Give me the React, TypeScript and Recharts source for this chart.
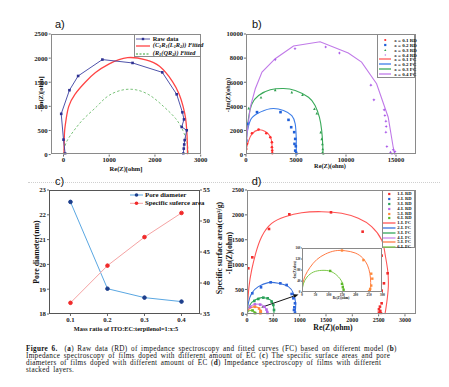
import React from "react";
import { ComposedChart, Line, Scatter, XAxis, YAxis, ReferenceLine } from "recharts";

// ---- panel a: raw data and two fitted models (Re, -Im in ohm)
const aRaw = [[36, 20], [0, 310], [-50, 845], [130, 1335], [320, 1630], [850, 1970], [1510, 1900], [2160, 1705], [2475, 1250], [2600, 877], [2635, 730], [2585, 573], [2695, 504], [2650, 300], [2640, 210], [2630, 124], [2620, 20]];
const aFitCRL = [[10, 0], [15, 250], [25, 500], [60, 750], [115, 1000], [250, 1250], [475, 1500], [700, 1700], [1000, 1880], [1400, 2010], [1800, 1965], [2100, 1830], [2380, 1520], [2530, 1250], [2615, 1000], [2670, 750], [2695, 500], [2708, 250], [2712, 0]];
const aFitRQR = [[0, 0], [60, 250], [230, 500], [450, 750], [730, 1000], [1000, 1230], [1420, 1355], [1850, 1250], [2185, 1000], [2450, 750], [2610, 500], [2700, 250], [2730, 0]];

// ---- panel b: x = 0.1 .. 0.4
const bFit1 = [[0, 0], [40, 500], [270, 1160], [600, 1720], [1260, 2050], [1930, 1910], [2430, 1500], [2590, 890], [2645, 300], [2660, 0]];
const bRaw1 = [[30, 470], [100, 890], [600, 1770], [1260, 2080], [2030, 1770], [2430, 1440], [2590, 1020], [2590, 610], [2620, 330], [2620, 110]];
const bFit2 = [[0, 0], [30, 900], [100, 1720], [430, 2830], [1100, 3380], [2430, 3800], [3750, 3660], [4580, 3240], [4920, 2550], [5020, 1440], [5030, 500], [5020, 0]];
const bRaw2 = [[30, 1160], [130, 2550], [1100, 3520], [3450, 3520], [4250, 2880], [4520, 2270], [4820, 1860], [4920, 1300], [4850, 890], [4980, 690], [4920, 330], [5020, 140], [5080, 0]];
const bFit3 = [[0, 0], [20, 800], [66, 1720], [266, 3100], [600, 4210], [1260, 4900], [2430, 5370], [3750, 5480], [4920, 5320], [6250, 4760], [6910, 4070], [7340, 3100], [7570, 1990], [7670, 890], [7710, 0]];
const bRaw3 = [[270, 3850], [1500, 4760], [2920, 5370], [4580, 5180], [5650, 4960], [6840, 3800], [7080, 3430], [7470, 1860], [7570, 1300], [7640, 890], [7670, 470], [7640, 190], [7740, 55]];
const bFit4 = [[0, 0], [100, 1720], [430, 3930], [930, 5460], [1600, 6840], [2920, 7950], [4750, 9000], [7410, 9360], [10230, 8420], [11560, 7670], [13060, 5870], [14220, 3100], [14720, 610], [14880, 0]];
const bRaw4 = [[2920, 7870], [4900, 8780], [7970, 8920], [9340, 8420], [12490, 5760], [12790, 4540], [13820, 3710], [13890, 3240], [13990, 2770], [14020, 2330], [13990, 1860], [14090, 665], [14450, 190], [14720, 400], [14850, 100], [14600, 50], [14900, 250]];

// ---- panel c
const cRatio = [0.1, 0.2, 0.3, 0.4];
const cPore = [22.52, 19.02, 18.66, 18.5];
const cArea = [36.8, 42.8, 47.4, 51.3];

// ---- panel d: 1..6 stacked layers
const d1Fit = [[0, 0], [13, 221], [38, 556], [89, 892], [165, 1227], [278, 1562], [468, 1830], [722, 1964], [1038, 2044], [1418, 2064], [1797, 2031], [2114, 1930], [2367, 1763], [2557, 1495], [2620, 1227], [2671, 892], [2684, 556], [2652, 221], [2620, 0]];
const d1Raw = [[25, 925], [101, 1146], [418, 1716], [804, 2011], [1595, 2051], [2196, 1662], [2557, 1180], [2671, 825], [2601, 623], [2557, 476], [2557, 221], [2525, 154], [2506, 100], [2532, 67], [2506, 34], [2544, 20]];
const d2Fit = [[0, 0], [25, 221], [89, 422], [215, 556], [405, 637], [595, 623], [785, 556], [880, 422], [924, 221], [911, 0]];
const d2Raw = [[101, 422], [266, 543], [449, 643], [633, 623], [753, 590], [848, 409], [880, 322], [911, 221], [899, 141], [892, 87], [911, 34]];
const d3Fit = [[0, 0], [57, 188], [152, 288], [278, 335], [373, 322], [468, 268], [506, 154], [513, 0]];
const d3Raw = [[139, 268], [215, 308], [310, 335], [392, 322], [468, 255], [500, 188], [513, 87]];
const d4Fit = [[0, 0], [15, 80], [50, 140], [110, 185], [200, 205], [290, 185], [350, 130], [385, 60], [395, 0]];
const d4Raw = [[60, 150], [150, 200], [250, 195], [330, 150], [370, 95], [385, 45], [390, 10]];
const d5Fit = [[0, 0], [3, 30], [12, 60], [30, 90], [55, 118], [87, 138], [124, 150], [161, 150], [198, 142], [226, 124], [244, 98], [253, 67], [256, 35], [255, 0]];
const d5Raw = [[149, 151], [229, 116], [258, 67], [262, 49], [258, 24], [254, 12], [250, 4]];
const d6Fit = [[0, 0], [5, 30], [19, 55], [43, 73], [74, 79], [105, 76], [130, 61], [149, 37], [155, 12], [155, 0]];
const d6Raw = [[105, 77], [149, 30], [152, 18], [155, 9]];

const bLabels = ["x = 0.1 RD", "x = 0.2 RD", "x = 0.3 RD", "x = 0.4 RD", "x = 0.1 FC", "x = 0.2 FC", "x = 0.3 FC", "x = 0.4 FC"];
const dLabels = ["1-L RD", "2-L RD", "3-L RD", "4-L RD", "5-L RD", "6-L RD", "1-L FC", "2-L FC", "3-L FC", "4-L FC", "5-L FC", "6-L FC"];

const SERIF = "'Liberation Serif', 'Times New Roman', serif";
const SANS = "'Liberation Sans', Arial, sans-serif";

const NAVY = "#2e3192";
const bRD = ["#ff2a2a", "#1f5fd8", "#2e9e4e", "#a855e8"];
const bFC = ["#ff5a5a", "#3d7ee8", "#3aaa5a", "#c07ae8"];
const dRD = ["#f22b2b", "#2962d9", "#2aa05a", "#b866e6", "#ff8a3a", "#5cb82a"];
const dFC = ["#ff5555", "#3a72dc", "#33a85c", "#c98aea", "#ff7a45", "#7cc84a"];

type Pt = { x: number; y: number };
const pts = (arr: number[][]): Pt[] => arr.map(([x, y]) => ({ x, y }));

type Box = { x0: number; y0: number; x1: number; y1: number };
const boxA: Box = { x0: 50.7, y0: 33.7, x1: 200.7, y1: 154.3 };
const boxB: Box = { x0: 245.7, y0: 33.7, x1: 415.7, y1: 154.3 };
const boxC: Box = { x0: 49, y0: 190, x1: 200, y1: 314 };
const boxD: Box = { x0: 247, y0: 190, x1: 415.5, y1: 314.3 };
const boxI: Box = { x0: 301.5, y0: 248.3, x1: 382, y1: 292.5 };

function mk(kind: string, color: string, s: number) {
  return (p: any) => {
    const { cx, cy } = p;
    if (cx == null || cy == null) return <g />;
    if (kind === "circle") return <circle cx={cx} cy={cy} r={s / 2} fill={color} />;
    if (kind === "tri")
      return <polygon points={`${cx},${cy - s / 2} ${cx - s / 2},${cy + s / 2} ${cx + s / 2},${cy + s / 2}`} fill={color} />;
    if (kind === "star")
      return (
        <polygon
          points={`${cx},${cy - s / 2} ${cx + s / 6},${cy - s / 6} ${cx + s / 2},${cy} ${cx + s / 6},${cy + s / 6} ${cx},${cy + s / 2} ${cx - s / 6},${cy + s / 6} ${cx - s / 2},${cy} ${cx - s / 6},${cy - s / 6}`}
          fill={color}
        />
      );
    return <rect x={cx - s / 2} y={cy - s / 2} width={s} height={s} fill={color} />;
  };
}

const tickStyle = (fs: number) => ({ fontSize: fs, fontWeight: 700, fontFamily: SERIF, fill: "#222" });

function Frame({ b, color = "#8a8a8a", bg }: { b: Box; color?: string; bg?: string }) {
  return (
    <div
      style={{
        position: "absolute",
        left: b.x0,
        top: b.y0,
        width: b.x1 - b.x0,
        height: b.y1 - b.y0,
        border: `1px solid ${color}`,
        boxSizing: "border-box",
        background: bg,
        pointerEvents: "none",
      }}
    />
  );
}

function Txt({ x, y, fs, rot, children, weight = 700, family = SERIF, anchor = "center" }: any) {
  const tx = anchor === "center" ? "-50%" : "0";
  return (
    <div
      style={{
        position: "absolute",
        left: x,
        top: y,
        transform: `translate(${tx}, -50%)${rot ? ` rotate(${rot}deg)` : ""}`,
        transformOrigin: anchor === "center" ? "center" : "left center",
        fontSize: fs,
        fontWeight: weight,
        fontFamily: family,
        whiteSpace: "nowrap",
        lineHeight: 1,
        color: "#111",
      }}
    >
      {children}
    </div>
  );
}

function Sample({ kind, color, w, dash }: { kind: string; color: string; w: number; dash?: string }) {
  const h = 4;
  return (
    <svg width={w} height={h} style={{ display: "block" }}>
      {kind === "line" || kind === "linesq" ? (
        <line x1={0} y1={h / 2} x2={w} y2={h / 2} stroke={color} strokeWidth={kind === "line" ? 1.3 : 0.8} strokeDasharray={dash} />
      ) : null}
      {kind !== "line" ? mk(kind === "linesq" ? "sq" : kind, color, kind === "linesq" ? 2.4 : 2.2)({ cx: w / 2, cy: h / 2 }) : null}
    </svg>
  );
}

type Row = { label: React.ReactNode; kind: string; color: string; dash?: string };

function LegendBox({ left, top, width, height, rows, start, step, fs, sw, tx }: any) {
  return (
    <div
      style={{
        position: "absolute",
        left,
        top,
        width,
        height,
        border: "1px solid #8a8a8a",
        boxSizing: "border-box",
        background: "#fff",
      }}
    >
      {rows.map((r: Row, i: number) => (
        <div key={i} style={{ position: "absolute", left: 0.5, top: start + i * step - 2, height: 4 }}>
          <Sample kind={r.kind} color={r.color} w={sw} dash={r.dash} />
          <div
            style={{
              position: "absolute",
              left: tx,
              top: 2,
              transform: "translateY(-50%)",
              fontSize: fs,
              fontWeight: 700,
              fontFamily: SERIF,
              whiteSpace: "nowrap",
              lineHeight: 1,
              color: "#111",
            }}
          >
            {r.label}
          </div>
        </div>
      ))}
    </div>
  );
}

function Panel({ b, yw, xh, rw = 0, data, children }: any) {
  const mt = 4;
  const mr = rw ? 0 : 12;
  return (
    <div style={{ position: "absolute", left: b.x0 - yw, top: b.y0 - mt }}>
      <ComposedChart
        width={b.x1 - b.x0 + yw + rw + mr}
        height={b.y1 - b.y0 + mt + xh}
        margin={{ top: mt, right: mr, left: 0, bottom: 0 }}
        data={data}
      >
        {children}
      </ComposedChart>
    </div>
  );
}

const axisCommon = (fs: number) => ({
  tick: tickStyle(fs),
  tickSize: 2,
  tickMargin: 1,
  axisLine: false,
  tickLine: { stroke: "#666" },
  allowDataOverflow: true,
  interval: 0 as const,
});

function fit(arr: number[][], color: string, type: any = "natural", width = 1, dash?: string, key?: string) {
  return (
    <Line
      key={key}
      data={pts(arr)}
      dataKey="y"
      type={type}
      stroke={color}
      strokeWidth={width}
      strokeDasharray={dash}
      dot={false}
      activeDot={false}
      isAnimationActive={false}
    />
  );
}

function raw(arr: number[][], kind: string, color: string, s: number, key?: string) {
  return <Scatter key={key} data={pts(arr)} dataKey="y" shape={mk(kind, color, s)} isAnimationActive={false} />;
}

const arrowShape = (p: any) => {
  const { x1, y1, x2, y2 } = p;
  if (x1 == null) return <g />;
  const a = Math.atan2(y2 - y1, x2 - x1);
  const L = 5;
  const W = 2;
  const bx = x2 - L * Math.cos(a);
  const by = y2 - L * Math.sin(a);
  const px = -Math.sin(a) * W;
  const py = Math.cos(a) * W;
  return (
    <g>
      <line x1={x1} y1={y1} x2={bx} y2={by} stroke="#111" strokeWidth={1} />
      <polygon points={`${x2},${y2} ${bx + px},${by + py} ${bx - px},${by - py}`} fill="#111" />
    </g>
  );
};

const sub = (s: string) => <sub style={{ fontSize: "70%", verticalAlign: "-0.2em" }}>{s}</sub>;

export default function App() {
  const cRows = cRatio.map((x, i) => ({ x, pore: cPore[i], area: cArea[i] }));
  const bFits = [bFit1, bFit2, bFit3, bFit4];
  const bRaws = [bRaw1, bRaw2, bRaw3, bRaw4];
  const bKinds = ["circle", "sq", "tri", "star"];
  const dFits = [d1Fit, d2Fit, d3Fit, d4Fit, d5Fit, d6Fit];
  const dRaws = [d1Raw, d2Raw, d3Raw, d4Raw, d5Raw, d6Raw];

  const aRows: Row[] = [
    { label: "Raw data", kind: "linesq", color: NAVY },
    { label: <i>(C{sub("1")}R{sub("1")}(L{sub("1")}R{sub("2")})) Fitted</i>, kind: "line", color: "#ff4545" },
    { label: <i>(R{sub("1")}(QR{sub("2")})) Fitted</i>, kind: "line", color: "#79c279", dash: "2 1.5" },
  ];
  const bRows: Row[] = bLabels.map((l, i) => ({
    label: <span><i>x</i>{l.slice(1)}</span>,
    kind: i < 4 ? bKinds[i] : "line",
    color: i < 4 ? bRD[i] : bFC[i - 4],
  }));
  const dRows: Row[] = dLabels.map((l, i) => ({
    label: l,
    kind: i < 6 ? "sq" : "line",
    color: i < 6 ? dRD[i] : dFC[i - 6],
  }));

  const capLine = { height: 7.2, overflow: "visible" as const };

  return (
    <div style={{ position: "absolute", left: 0, top: 0, width: 449, height: 387, background: "#fff", overflow: "hidden" }}>
      {/* dotted separator */}
      <div style={{ position: "absolute", left: 28, top: 182, width: 412, borderTop: "1px dotted #cfcfcf" }} />

      {/* ---------- a ---------- */}
      <Panel b={boxA} yw={30.7} xh={12}>
        <XAxis type="number" dataKey="x" domain={[-280, 3000]} ticks={[0, 1000, 2000, 3000]} height={12} {...axisCommon(6.8)} />
        <YAxis type="number" dataKey="y" domain={[0, 2500]} ticks={[0, 500, 1000, 1500, 2000, 2500]} width={30.7} {...axisCommon(6.8)} />
        {fit(aFitRQR, "#79c279", "natural", 1, "2.5 2")}
        {fit(aFitCRL, "#ff4545", "natural", 1.3)}
        {fit(aRaw, "#3b3fa0", "linear", 0.9)}
        {raw(aRaw, "sq", NAVY, 2.6)}
      </Panel>
      <Frame b={boxA} />
      <LegendBox left={134.3} top={33.7} width={66.4} height={23.6} rows={aRows} start={4} step={7.8} fs={6.3} sw={14} tx={17} />
      <Txt x={55} y={24} fs={11} weight={400} family={SANS} anchor="left">a)</Txt>
      <Txt x={40.7} y={94} fs={6.5} rot={-90}>-Im(Z)[ohm]</Txt>
      <Txt x={126} y={169} fs={6.5}>Re(Z)[ohm]</Txt>

      {/* ---------- b ---------- */}
      <Panel b={boxB} yw={22} xh={12}>
        <XAxis type="number" dataKey="x" domain={[0, 17000]} ticks={[0, 5000, 10000, 15000]} height={12} {...axisCommon(6.6)} />
        <YAxis type="number" dataKey="y" domain={[0, 10000]} ticks={[0, 2000, 4000, 6000, 8000, 10000]} width={22} {...axisCommon(6.6)} />
        {bFits.map((f, i) => fit(f, bFC[i], i === 3 ? "linear" : "natural", 1.1, undefined, "bf" + i))}
        {bRaws.map((r, i) => raw(r, bKinds[i], bRD[i], i === 3 ? 3.2 : 2.6, "br" + i))}
      </Panel>
      <Frame b={boxB} />
      <LegendBox left={377.3} top={33.7} width={37.7} height={44.3} rows={bRows} start={5.3} step={4.85} fs={5} sw={12.5} tx={15.5} />
      <Txt x={252} y={24} fs={11} weight={400} family={SANS} anchor="left">b)</Txt>
      <Txt x={228} y={95} fs={6.3} rot={-90}>-Im(Z)(ohm)</Txt>
      <Txt x={330} y={166} fs={6.3}>Re(Z)(ohm)</Txt>

      {/* ---------- c ---------- */}
      <Panel b={boxC} yw={14} xh={12} rw={14} data={cRows}>
        <XAxis type="number" dataKey="x" domain={[0.042, 0.45]} ticks={cRatio} height={12} {...axisCommon(6.8)} />
        <YAxis yAxisId="l" type="number" domain={[18, 23]} ticks={[18, 19, 20, 21, 22, 23]} width={14} {...axisCommon(6.8)} />
        <YAxis yAxisId="r" orientation="right" type="number" domain={[35, 55]} ticks={[35, 40, 45, 50, 55]} width={14} {...axisCommon(6.8)} />
        <Line yAxisId="l" dataKey="pore" type="linear" stroke="#5aa7e2" strokeWidth={1} dot={{ r: 1.8, fill: "#1d3f8c", stroke: "#1d3f8c" }} activeDot={false} isAnimationActive={false} />
        <Line yAxisId="r" dataKey="area" type="linear" stroke="#f5a3a3" strokeWidth={1} dot={{ r: 1.8, fill: "#f02a2a", stroke: "#f02a2a" }} activeDot={false} isAnimationActive={false} />
      </Panel>
      <Frame b={boxC} color="#555" />
      <Txt x={55} y={181} fs={11} weight={400} family={SANS} anchor="left">c)</Txt>
      <svg style={{ position: "absolute", left: 130, top: 192 }} width={14} height={14}>
        <line x1={0} y1={3} x2={13} y2={3} stroke="#5aa7e2" strokeWidth={1} />
        <circle cx={6.5} cy={3} r={1.8} fill="#1d3f8c" />
        <line x1={0} y1={11.3} x2={13} y2={11.3} stroke="#f5a3a3" strokeWidth={1} />
        <circle cx={6.5} cy={11.3} r={1.8} fill="#f02a2a" />
      </svg>
      <Txt x={145} y={195} fs={6.8} anchor="left">Pore diameter</Txt>
      <Txt x={145} y={203.3} fs={6.8} anchor="left">Specific suferce area</Txt>
      <Txt x={36.7} y={252} fs={7.8} rot={-90}>Pore diameter(nm)</Txt>
      <Txt x={220} y={248} fs={7.8} rot={-90}>Specific surface area(cm²/g)</Txt>
      <Txt x={126} y={329} fs={6.3}>Mass ratio of ITO:EC:terpilenol=1:x:5</Txt>

      {/* ---------- d ---------- */}
      <Panel b={boxD} yw={18} xh={12}>
        <XAxis type="number" dataKey="x" domain={[0, 3200]} ticks={[0, 500, 1000, 1500, 2000, 2500, 3000]} height={12} {...axisCommon(6)} />
        <YAxis type="number" dataKey="y" domain={[0, 2500]} ticks={[0, 500, 1000, 1500, 2000, 2500]} width={18} {...axisCommon(6)} />
        {dFits.map((f, i) => fit(f, dFC[i], "natural", 1.1, undefined, "df" + i))}
        {dRaws.map((r, i) => raw(r, "sq", dRD[i], 2.6, "dr" + i))}
        <ReferenceLine segment={[{ x: 279, y: 141 }, { x: 978, y: 398 }]} ifOverflow="visible" shape={arrowShape} />
      </Panel>
      <Frame b={boxD} />
      <Frame b={boxI} bg="#fff" />
      <Panel b={boxI} yw={7} xh={6}>
        <XAxis type="number" dataKey="x" domain={[0, 300]} ticks={[0, 50, 100, 150, 200, 250, 300]} height={6} {...axisCommon(3.3)} tickSize={1} tickMargin={0.5} />
        <YAxis type="number" dataKey="y" domain={[0, 160]} ticks={[0, 40, 80, 120, 160]} width={7} {...axisCommon(3.3)} tickSize={1} tickMargin={0.5} />
        {fit(d5Fit, dFC[4], "natural", 1)}
        {fit(d6Fit, dFC[5], "natural", 1)}
        {raw(d5Raw, "sq", dRD[4], 2.4)}
        {raw(d6Raw, "sq", dRD[5], 2.4)}
      </Panel>
      <Frame b={boxI} />
      <Txt x={296} y={270} fs={3.3} rot={-90}>-Im(Z)(ohm)</Txt>
      <Txt x={341} y={299} fs={3.3}>Re(Z)(ohm)</Txt>
      <LegendBox left={381.7} top={190} width={33.6} height={57.7} rows={dRows} start={3.3} step={4.8} fs={4.6} sw={12.5} tx={14} />
      <Txt x={251.7} y={181} fs={11} weight={400} family={SANS} anchor="left">d)</Txt>
      <Txt x={230} y={253} fs={7.8} rot={-90}>-Im(Z)(ohm)</Txt>
      <Txt x={333} y={328} fs={7.8}>Re(Z)(ohm)</Txt>

      {/* ---------- caption ---------- */}
      <div
        style={{
          position: "absolute",
          left: 26,
          top: 345.6,
          fontFamily: SERIF,
          fontSize: 7.2,
          lineHeight: "7.2px",
          letterSpacing: 0.3,
          wordSpacing: 1.4,
          color: "#111",
          whiteSpace: "nowrap",
        }}
      >
        <div style={capLine}><b>Figure 6.</b>&nbsp; (<b>a</b>) Raw data (RD) of impedance spectroscopy and fitted curves (FC) based on different model (<b>b</b>)</div>
        <div style={capLine}>Impedance spectroscopy of films doped with different amount of EC (<b>c</b>) The specific surface areas and pore</div>
        <div style={capLine}>diameters of films doped with different amount of EC (<b>d</b>) Impedance spectroscopy of films with different</div>
        <div style={capLine}>stacked layers.</div>
      </div>
    </div>
  );
}
